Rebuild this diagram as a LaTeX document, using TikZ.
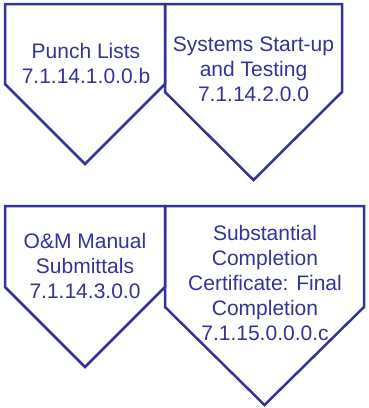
\documentclass[tikz,border=0pt]{standalone}
\usepackage{fontspec}
\setmainfont{Liberation Sans}
\usepackage{tikz}
\usetikzlibrary{positioning}
\definecolor{myblue}{RGB}{51,51,153}
\tikzset{
  offpage/.style={draw=myblue, line width=2.5pt, line join=miter},
  steptext/.style={align=center, text=myblue, inner sep=0pt,
    font=\fontsize{21}{25}\selectfont}
}

\begin{document}
\begin{tikzpicture}[x=1pt, y=-1pt]
  \useasboundingbox (0,0) rectangle (368,408);
  % top row
  \draw[offpage] (5,4) -- (165,4) -- (165,84) -- (85,164) -- (5,84) -- cycle;
  \draw[offpage] (165,4) -- (342,4) -- (342,92) -- (253.5,180) -- (165,92) -- cycle;
  \node[steptext] (punch) at (86,63) {Punch Lists\\7.1.14.1.0.0.b};
  \node[steptext] (start) at (253.5,69) {Systems Start-up\\and Testing\\7.1.14.2.0.0};
  % bottom row
  \draw[offpage] (5,206) -- (165,206) -- (165,287) -- (85,367) -- (5,287) -- cycle;
  \draw[offpage] (165,206) -- (364,206) -- (364,307) -- (264.5,405) -- (165,307) -- cycle;
  \node[steptext] (manual) at (85,266) {O\&M Manual\\Submittals\\7.1.14.3.0.0};
  \node[steptext] (final) at (265,283) {Substantial\\Completion\\Certificate: Final\\Completion\\7.1.15.0.0.0.c};
\end{tikzpicture}
\end{document}
